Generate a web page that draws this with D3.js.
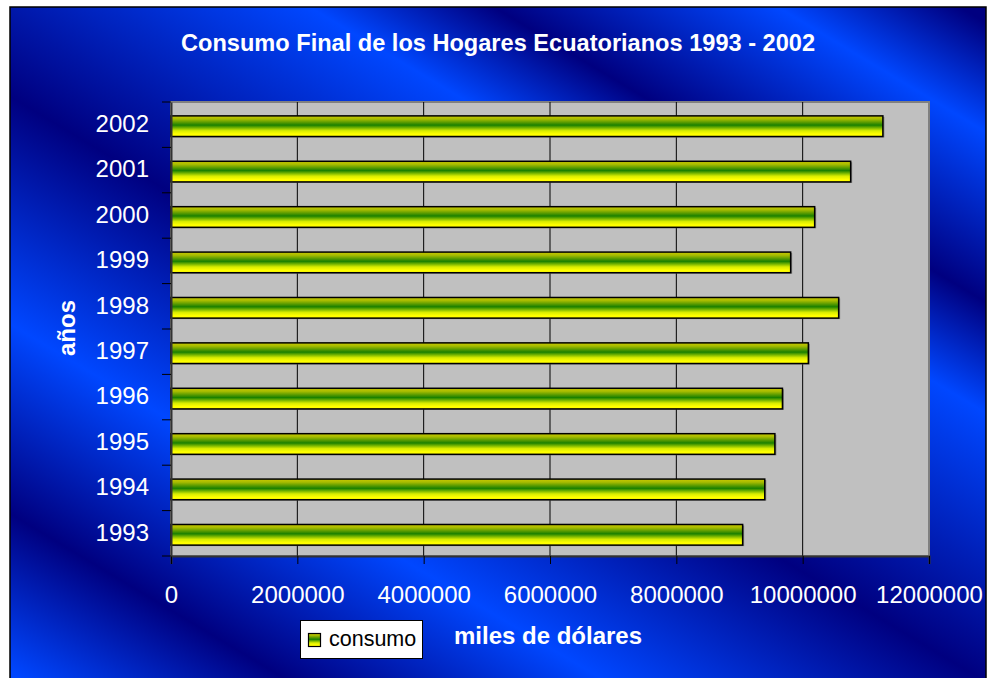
<!DOCTYPE html>
<html>
<head>
<meta charset="utf-8">
<script src="https://cdn.jsdelivr.net/npm/d3@7"></script>
<style>
    html, body { margin: 0; padding: 0; background: #ffffff; }
    svg { display: block; font-family: "Liberation Sans", Arial, sans-serif; }
</style>
</head>
<body>
<div id="chart"></div>
<script>
// Chart data (miles de dólares)
const years = ["1993", "1994", "1995", "1996", "1997", "1998", "1999", "2000", "2001", "2002"];
const consumo = [9050000, 9400000, 9560000, 9680000, 10090000, 10570000, 9810000, 10190000, 10760000, 11270000];
const xTicks = [0, 2000000, 4000000, 6000000, 8000000, 10000000, 12000000];
const seriesName = "consumo";
const titleText = "Consumo Final de los Hogares Ecuatorianos 1993 - 2002";

const width = 989, height = 678;
const plot = { left: 171, top: 102, right: 929, bottom: 556 };

const svg = d3.select("#chart")
    .append("svg")
    .attr("width", width)
    .attr("height", height);

const defs = svg.append("defs");

// Striped blue background gradient
const bgStops = [
    [0.00, "#000080"], [0.024, "#000080"], [0.108, "#0047ff"], [0.239, "#000080"],
    [0.324, "#0047ff"], [0.531, "#000080"], [0.706, "#0047ff"], [0.852, "#000080"],
    [0.974, "#0047ff"], [1.00, "#0047ff"]
];
const bg = defs.append("linearGradient")
    .attr("id", "bgGrad")
    .attr("gradientUnits", "userSpaceOnUse")
    .attr("x1", 1000).attr("y1", 0)
    .attr("x2", 426.5).attr("y2", 955.9);
bg.selectAll("stop").data(bgStops).enter().append("stop")
    .attr("offset", d => d[0])
    .attr("stop-color", d => d[1]);

// Yellow / green bar gradient
const barStops = [
    [0.00, "#c8c800"], [0.15, "#a8bc00"], [0.45, "#1a8000"],
    [0.72, "#d8ec00"], [0.88, "#ffff00"], [1.00, "#ffff00"]
];
const barGrad = defs.append("linearGradient")
    .attr("id", "barGrad")
    .attr("x1", 0).attr("y1", 0)
    .attr("x2", 0).attr("y2", 1);
barGrad.selectAll("stop").data(barStops).enter().append("stop")
    .attr("offset", d => d[0])
    .attr("stop-color", d => d[1]);

// Chart area background
svg.append("rect")
    .attr("x", 10).attr("y", 7)
    .attr("width", 976).attr("height", 680)
    .attr("fill", "url(#bgGrad)")
    .attr("stroke", "#000000")
    .attr("stroke-width", 1.5);

// Scales
const x = d3.scaleLinear()
    .domain([0, 12000000])
    .range([plot.left, plot.right]);

const y = d3.scaleBand()
    .domain(years.slice().reverse())
    .range([plot.top, plot.bottom])
    .padding(0);

// Plot area
svg.append("rect")
    .attr("x", plot.left).attr("y", plot.top)
    .attr("width", plot.right - plot.left)
    .attr("height", plot.bottom - plot.top)
    .attr("fill", "#c0c0c0")
    .attr("stroke", "#808080")
    .attr("stroke-width", 2);

// Vertical gridlines
svg.append("g")
    .selectAll("line")
    .data(xTicks.slice(1, -1))
    .enter().append("line")
    .attr("x1", d => x(d)).attr("x2", d => x(d))
    .attr("y1", plot.top).attr("y2", plot.bottom)
    .attr("stroke", "#000000")
    .attr("stroke-width", 1);

// Bars
const barH = y.bandwidth() / 2.2;
const bars = svg.append("g").selectAll("g")
    .data(years.map((yr, i) => ({ year: yr, value: consumo[i] })))
    .enter().append("g");

bars.append("rect")
    .attr("x", x(0) + 1.5)
    .attr("y", d => y(d.year) + (y.bandwidth() - barH) / 2 + 2.5)
    .attr("width", d => x(d.value) - x(0))
    .attr("height", barH)
    .attr("fill", "#6a6a6a")
    .attr("opacity", 0.7);

bars.append("rect")
    .attr("x", x(0))
    .attr("y", d => y(d.year) + (y.bandwidth() - barH) / 2 + 1.5)
    .attr("width", d => x(d.value) - x(0))
    .attr("height", barH)
    .attr("fill", "url(#barGrad)")
    .attr("stroke", "#000000")
    .attr("stroke-width", 1.5);

// X axis
const xAxis = svg.append("g")
    .attr("transform", `translate(0,${plot.bottom})`)
    .call(d3.axisBottom(x).tickValues(xTicks).tickSize(8).tickPadding(22).tickFormat(d3.format("d")));
xAxis.select(".domain").attr("stroke", "#333333").attr("stroke-width", 2);
xAxis.selectAll(".tick line").attr("stroke", "#000000");
xAxis.selectAll(".tick text")
    .attr("fill", "#ffffff")
    .attr("font-size", 24)
    .attr("font-family", "'Liberation Sans', Arial, sans-serif");

// Y axis (ticks at category boundaries)
const yAxis = svg.append("g")
    .attr("transform", `translate(${plot.left},0)`)
    .call(d3.axisLeft(y).tickSize(0).tickPadding(22));
yAxis.select(".domain").attr("stroke", "#333333").attr("stroke-width", 2);
yAxis.selectAll(".tick text")
    .attr("fill", "#ffffff")
    .attr("font-size", 24)
    .attr("dy", "0.3em")
    .attr("font-family", "'Liberation Sans', Arial, sans-serif");

const bounds = y.domain().map(d => y(d)).concat([plot.bottom]);
svg.append("g").selectAll("line")
    .data(bounds)
    .enter().append("line")
    .attr("x1", plot.left - 9).attr("x2", plot.left)
    .attr("y1", d => d).attr("y2", d => d)
    .attr("stroke", "#000000")
    .attr("stroke-width", 1);

// Title
svg.append("text")
    .attr("x", 498).attr("y", 51)
    .attr("text-anchor", "middle")
    .attr("fill", "#ffffff")
    .attr("font-size", 24)
    .attr("font-weight", "bold")
    .attr("textLength", 634)
    .attr("lengthAdjust", "spacingAndGlyphs")
    .text(titleText);

// Axis titles
svg.append("text")
    .attr("transform", "translate(75,328) rotate(-90)")
    .attr("text-anchor", "middle")
    .attr("fill", "#ffffff")
    .attr("font-size", 24)
    .attr("font-weight", "bold")
    .text("años");

svg.append("text")
    .attr("x", 548).attr("y", 644)
    .attr("text-anchor", "middle")
    .attr("fill", "#ffffff")
    .attr("font-size", 24)
    .attr("font-weight", "bold")
    .text("miles de dólares");

// Legend
const legend = svg.append("g");
legend.append("rect")
    .attr("x", 300.5).attr("y", 620.5)
    .attr("width", 122).attr("height", 38)
    .attr("fill", "#ffffff")
    .attr("stroke", "#000000")
    .attr("stroke-width", 1);
legend.append("rect")
    .attr("x", 308.5).attr("y", 633.5)
    .attr("width", 12).attr("height", 13)
    .attr("fill", "url(#barGrad)")
    .attr("stroke", "#000000")
    .attr("stroke-width", 1.2);
legend.append("text")
    .attr("x", 329).attr("y", 646)
    .attr("fill", "#000000")
    .attr("font-size", 21.5)
    .text(seriesName);
</script>
</body>
</html>
